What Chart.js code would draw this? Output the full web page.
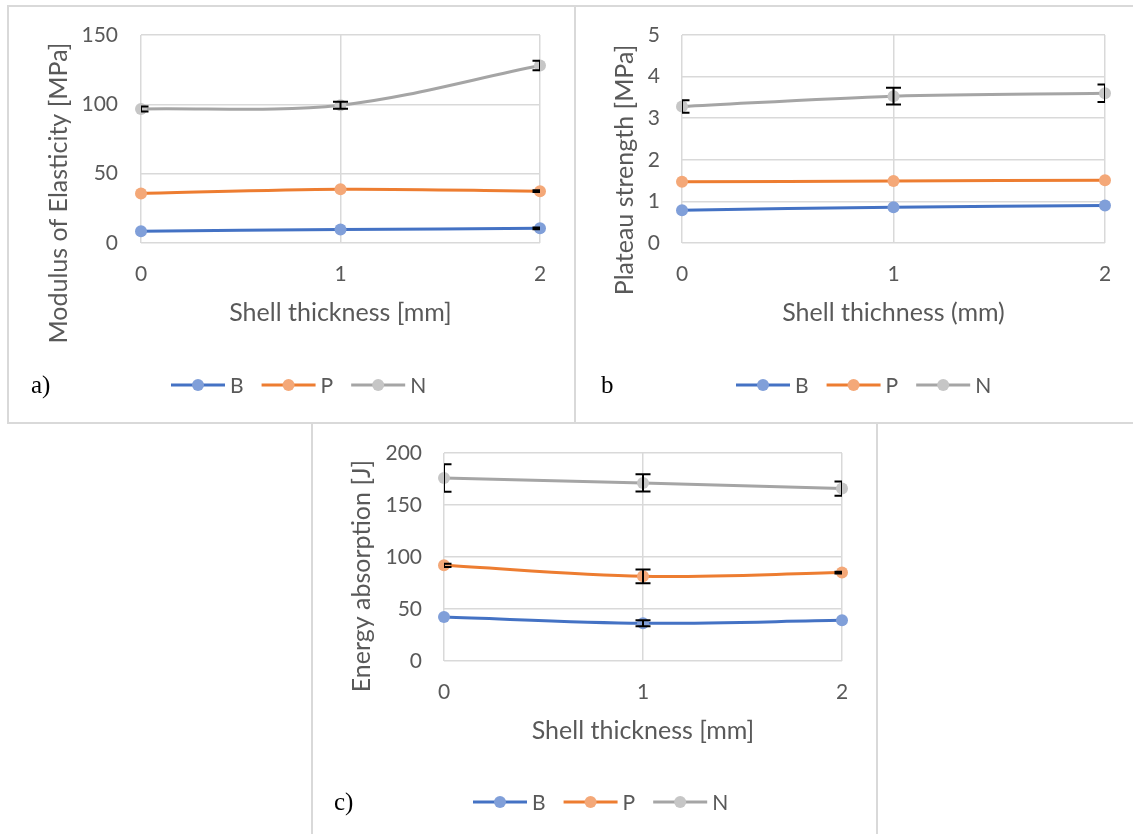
<!DOCTYPE html>
<html>
<head>
<meta charset="utf-8">
<script src="https://cdn.jsdelivr.net/npm/chart.js@4.4.1/dist/chart.umd.min.js"></script>
<style>
  html, body { margin: 0; padding: 0; background: #ffffff; }
  body { position: relative; width: 1133px; height: 834px; overflow: hidden; }
  .frame { position: absolute; box-sizing: border-box; border: 2px solid #d9d9d9; }
  canvas { position: absolute; }
</style>
</head>
<body>
<div class="frame" style="left:7px;top:5px;width:569px;height:419px"></div>
<div class="frame" style="left:574px;top:5px;width:600px;height:419px"></div>
<div class="frame" style="left:311px;top:422px;width:567px;height:500px"></div>
<canvas id="panelA" width="565" height="415" style="left:9px;top:7px"></canvas>
<canvas id="panelB" width="557" height="415" style="left:576px;top:7px"></canvas>
<canvas id="panelC" width="563" height="410" style="left:313px;top:424px"></canvas>
<script>
// Shell thickness categories and series names
const thickness = ['0', '1', '2'];
const seriesNames = ['B', 'P', 'N'];

// a) Modulus of elasticity [MPa]
const modulusB = [8.5, 9.7, 10.6];
const modulusP = [35.7, 38.8, 37.4];
const modulusN = [96.7, 99.4, 128.0];
const modulusErrB = [0, 0, 0.6];
const modulusErrP = [0, 0, 0.6];
const modulusErrN = [1.8, 2.5, 3.5];
const modulusTicks = [0, 50, 100, 150];

// b) Plateau strength [MPa]
const plateauB = [0.79, 0.86, 0.90];
const plateauP = [1.47, 1.49, 1.51];
const plateauN = [3.28, 3.53, 3.60];
const plateauErrB = [0, 0, 0];
const plateauErrP = [0, 0, 0];
const plateauErrN = [0.15, 0.20, 0.21];
const plateauTicks = [0, 1, 2, 3, 4, 5];

// c) Energy absorption [J]
const energyB = [42.3, 36.3, 39.1];
const energyP = [92.0, 81.4, 85.0];
const energyN = [176.0, 171.2, 165.8];
const energyErrB = [0, 3.0, 0];
const energyErrP = [1.5, 6.6, 0.8];
const energyErrN = [13.2, 8.3, 6.9];
const energyTicks = [0, 50, 100, 150, 200];

const lineColors = ['#4472C4', '#ED7D31', '#A5A5A5'];
const markerColors = ['#809FD9', '#F4A878', '#C6C6C6'];
const textColor = '#595959';
const gridColor = '#d9d9d9';
const titleSize = 25;
const tickSize = 21;

Chart.defaults.font.family = 'Lato, "Open Sans", sans-serif';

// Symmetric error bars, clipped to the plot area
const errorBars = {
  id: 'errorBars',
  afterDatasetsDraw(chart) {
    const { ctx, chartArea: a } = chart;
    const yScale = chart.scales.y;
    ctx.save();
    ctx.beginPath();
    ctx.rect(a.left, a.top, a.right - a.left, a.bottom - a.top);
    ctx.clip();
    ctx.strokeStyle = '#000000';
    ctx.lineWidth = 2;
    chart.data.datasets.forEach((ds, di) => {
      const meta = chart.getDatasetMeta(di);
      (ds.errors || []).forEach((e, i) => {
        if (!e) return;
        const x = meta.data[i].x;
        const v = ds.data[i];
        const top = yScale.getPixelForValue(v + e);
        const bot = yScale.getPixelForValue(v - e);
        ctx.beginPath();
        ctx.moveTo(x, top); ctx.lineTo(x, bot);
        ctx.moveTo(x - 7.5, top); ctx.lineTo(x + 7.5, top);
        ctx.moveTo(x - 7.5, bot); ctx.lineTo(x + 7.5, bot);
        ctx.stroke();
      });
    });
    ctx.restore();
  }
};

// Rotated value-axis title, line+marker legend and the panel letter
const panelText = {
  id: 'panelText',
  afterDraw(chart, args, o) {
    const ctx = chart.ctx;
    ctx.save();
    ctx.fillStyle = textColor;
    ctx.font = titleSize + 'px Lato';
    ctx.textAlign = 'center';
    ctx.textBaseline = 'middle';
    ctx.translate(o.yTitleX, o.yTitleY);
    ctx.rotate(-Math.PI / 2);
    ctx.fillText(o.yTitle, 0, 0);
    ctx.restore();

    ctx.save();
    let x = o.legendX;
    const y = o.legendY;
    ctx.font = tickSize + 'px Lato';
    ctx.textBaseline = 'middle';
    ctx.textAlign = 'left';
    chart.data.datasets.forEach(ds => {
      ctx.strokeStyle = ds.borderColor;
      ctx.lineWidth = 3;
      ctx.beginPath();
      ctx.moveTo(x, y); ctx.lineTo(x + 54, y);
      ctx.stroke();
      ctx.fillStyle = ds.pointBackgroundColor;
      ctx.beginPath();
      ctx.arc(x + 27, y, 6, 0, Math.PI * 2);
      ctx.fill();
      ctx.fillStyle = textColor;
      ctx.fillText(ds.label, x + 59, y + 1);
      x += 59 + ctx.measureText(ds.label).width + 18;
    });
    ctx.fillStyle = '#000000';
    ctx.font = '25px "Liberation Serif", "Times New Roman", serif';
    ctx.fillText(o.letter, o.letterX, y + 1);
    ctx.restore();
  }
};

function buildPanel(id, spec) {
  const canvas = document.getElementById(id);
  const W = canvas.width, H = canvas.height;
  const xScaleBottom = spec.xTitleY + titleSize * 0.6 + 4;
  const ticks = spec.ticks;
  return new Chart(canvas, {
    type: 'line',
    data: {
      labels: thickness,
      datasets: spec.values.map((vals, i) => ({
        label: seriesNames[i],
        data: vals,
        errors: spec.errors[i],
        borderColor: lineColors[i],
        borderWidth: 3,
        pointBackgroundColor: markerColors[i],
        pointBorderColor: markerColors[i],
        pointBorderWidth: 0,
        pointRadius: 6,
        tension: 0.33,
        clip: false,
        fill: false
      }))
    },
    options: {
      responsive: false,
      animation: false,
      events: [],
      layout: {
        autoPadding: false,
        padding: { left: 0, top: spec.plot.top, right: W - spec.plot.right, bottom: H - xScaleBottom }
      },
      scales: {
        x: {
          type: 'category',
          offset: false,
          grid: { color: gridColor, lineWidth: 1.5, drawTicks: false },
          border: { display: false },
          ticks: { color: textColor, font: { size: tickSize }, padding: 19, maxRotation: 0 },
          title: { display: true, text: spec.xTitle, color: textColor, font: { size: titleSize }, padding: { top: 4, bottom: 4 } },
          afterFit: s => { s.height = xScaleBottom - spec.plot.bottom; }
        },
        y: {
          min: ticks[0],
          max: ticks[ticks.length - 1],
          // the gap between labels and plot comes from an invisible tick mark,
          // so the label padding does not push the plot area down
          grid: { color: gridColor, lineWidth: 1.5, drawTicks: true, tickLength: spec.tickGap, tickColor: 'rgba(0,0,0,0)' },
          border: { display: false },
          ticks: { color: textColor, font: { size: tickSize }, padding: 0 },
          afterBuildTicks: s => { s.ticks = ticks.map(v => ({ value: v })); },
          afterFit: s => { s.width = spec.plot.left; }
        }
      },
      plugins: {
        legend: { display: false },
        tooltip: { enabled: false },
        panelText: spec.text
      }
    },
    plugins: [errorBars, panelText]
  });
}

buildPanel('panelA', {
  values: [modulusB, modulusP, modulusN],
  errors: [modulusErrB, modulusErrP, modulusErrN],
  ticks: modulusTicks,
  xTitle: 'Shell thickness [mm]',
  plot: { left: 132, right: 531, top: 28, bottom: 236 },
  tickGap: 23,
  xTitleY: 306,
  text: { yTitle: 'Modulus of Elasticity [MPa]', yTitleX: 50, yTitleY: 186, legendX: 162, legendY: 378, letter: 'a)', letterX: 22 }
});

buildPanel('panelB', {
  values: [plateauB, plateauP, plateauN],
  errors: [plateauErrB, plateauErrP, plateauErrN],
  ticks: plateauTicks,
  xTitle: 'Shell thichness (mm)',
  plot: { left: 106, right: 529, top: 28, bottom: 236 },
  tickGap: 22,
  xTitleY: 306,
  text: { yTitle: 'Plateau strength [MPa]', yTitleX: 49, yTitleY: 163, legendX: 160, legendY: 378, letter: 'b', letterX: 25 }
});

buildPanel('panelC', {
  values: [energyB, energyP, energyN],
  errors: [energyErrB, energyErrP, energyErrN],
  ticks: energyTicks,
  xTitle: 'Shell thickness [mm]',
  plot: { left: 131, right: 529, top: 29, bottom: 237 },
  tickGap: 22,
  xTitleY: 307,
  text: { yTitle: 'Energy absorption [J]', yTitleX: 49, yTitleY: 152, legendX: 160, legendY: 378, letter: 'c)', letterX: 21 }
});
</script>
</body>
</html>
